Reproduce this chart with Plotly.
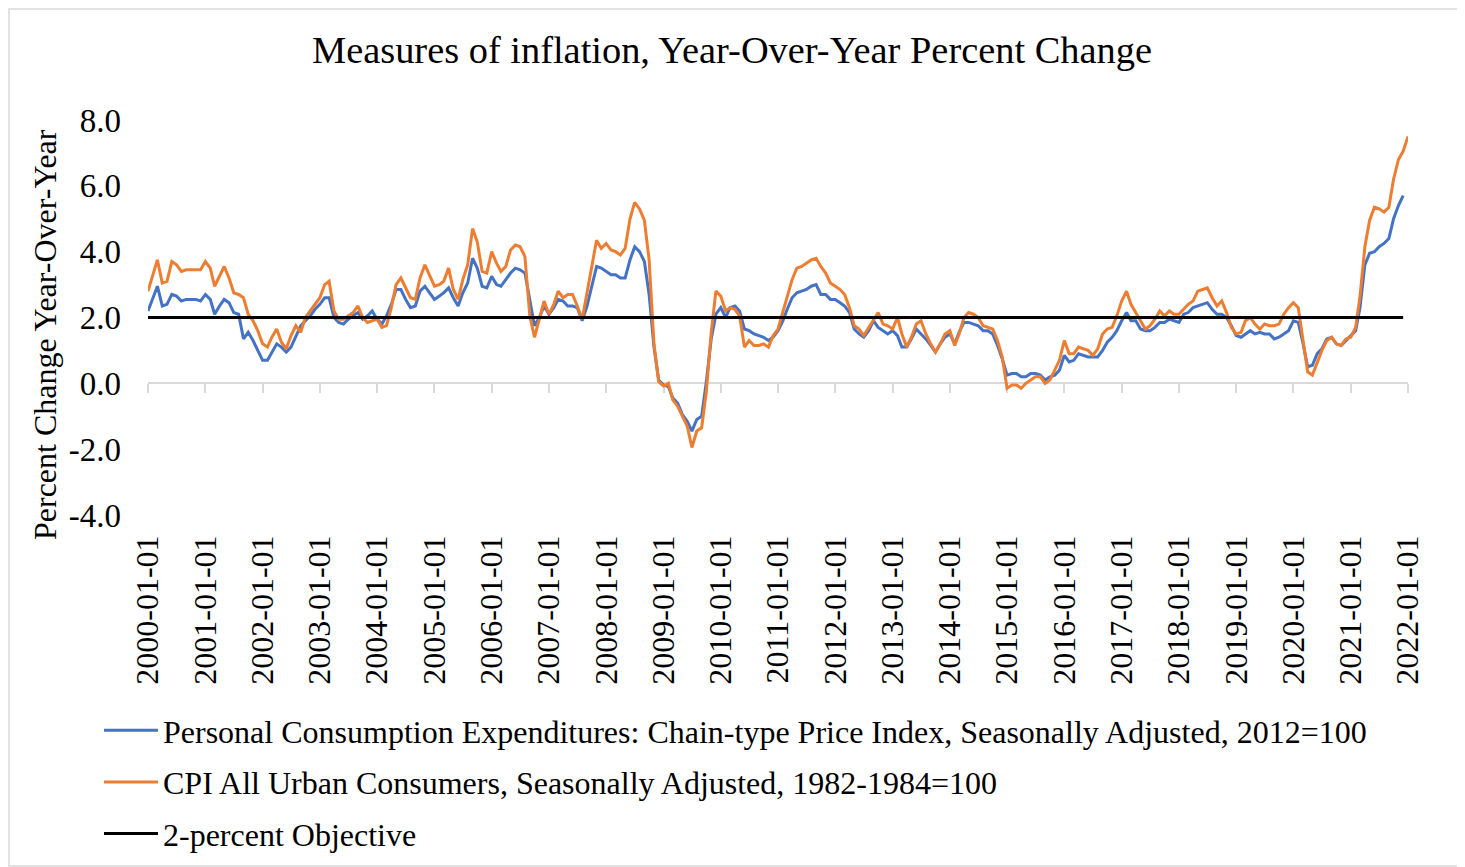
import pandas as pd
import plotly.graph_objects as go

# ---------------- data (year-over-year % change, monthly) ----------------
pce_yoy = [
    # 2000
    2.2, 2.6, 2.95, 2.35, 2.4, 2.7, 2.65, 2.5, 2.55, 2.55, 2.55, 2.5,
    # 2001
    2.7, 2.55, 2.1, 2.35, 2.55, 2.45, 2.15, 2.1, 1.35, 1.55, 1.3, 1.0,
    # 2002
    0.7, 0.7, 0.95, 1.2, 1.1, 0.95, 1.1, 1.4, 1.75, 1.9, 2.05, 2.25,
    # 2003
    2.4, 2.6, 2.6, 2.0, 1.85, 1.8, 1.95, 2.05, 2.15, 1.95, 2.05, 2.2,
    # 2004
    1.95, 1.8, 2.05, 2.4, 2.85, 2.85, 2.55, 2.3, 2.35, 2.8, 2.95, 2.75,
    # 2005
    2.55, 2.65, 2.75, 2.9, 2.6, 2.35, 2.75, 3.05, 3.8, 3.5, 2.95, 2.9,
    # 2006
    3.25, 3.0, 2.95, 3.15, 3.35, 3.5, 3.45, 3.35, 2.5, 1.75, 2.0, 2.35,
    # 2007
    2.1, 2.3, 2.55, 2.5, 2.35, 2.35, 2.3, 1.9, 2.35, 2.9, 3.55, 3.5,
    # 2008
    3.4, 3.3, 3.3, 3.2, 3.2, 3.75, 4.15, 4.0, 3.7, 2.7, 1.1, 0.1,
    # 2009
    -0.05, -0.1, -0.45, -0.6, -0.95, -1.15, -1.45, -1.1, -1.0, 0.05, 1.35, 2.1,
    # 2010
    2.3, 2.0, 2.3, 2.35, 2.2, 1.65, 1.6, 1.5, 1.45, 1.4, 1.3, 1.4,
    # 2011
    1.6, 1.9, 2.25, 2.6, 2.75, 2.8, 2.85, 2.95, 3.0, 2.7, 2.7, 2.55,
    # 2012
    2.55, 2.45, 2.35, 2.15, 1.65, 1.5, 1.4, 1.6, 1.9, 1.7, 1.6, 1.5,
    # 2013
    1.6, 1.45, 1.1, 1.1, 1.35, 1.65, 1.5, 1.35, 1.15, 0.95, 1.2, 1.4,
    # 2014
    1.5, 1.2, 1.55, 1.85, 1.85, 1.8, 1.75, 1.6, 1.6, 1.5, 1.15, 0.75,
    # 2015
    0.25, 0.3, 0.3, 0.2, 0.2, 0.3, 0.3, 0.25, 0.1, 0.2, 0.25, 0.4,
    # 2016
    0.85, 0.65, 0.7, 0.9, 0.85, 0.8, 0.8, 0.8, 1.0, 1.25, 1.4, 1.6,
    # 2017
    1.9, 2.15, 1.9, 1.9, 1.65, 1.6, 1.6, 1.7, 1.85, 1.85, 1.95, 1.9,
    # 2018
    1.85, 2.1, 2.15, 2.3, 2.35, 2.4, 2.45, 2.25, 2.1, 2.1, 2.0, 1.75,
    # 2019
    1.45, 1.4, 1.5, 1.6, 1.5, 1.55, 1.5, 1.5, 1.35, 1.4, 1.5, 1.6,
    # 2020
    1.9, 1.85, 1.25, 0.5, 0.55, 0.9, 1.05, 1.35, 1.4, 1.2, 1.15, 1.3,
    # 2021
    1.45, 1.6, 2.3, 3.6, 3.95, 4.0, 4.15, 4.25, 4.4, 5.0, 5.4, 5.7,
]

cpi_yoy = [
    # 2000
    2.8, 3.3, 3.75, 3.05, 3.1, 3.7, 3.6, 3.4, 3.45, 3.45, 3.45, 3.45,
    # 2001
    3.7, 3.5, 2.95, 3.25, 3.55, 3.2, 2.75, 2.7, 2.6, 2.1, 1.9, 1.6,
    # 2002
    1.2, 1.1, 1.4, 1.65, 1.25, 1.05, 1.45, 1.75, 1.55, 2.0, 2.2, 2.4,
    # 2003
    2.6, 3.0, 3.1, 2.2, 1.95, 1.95, 2.05, 2.15, 2.35, 2.0, 1.85, 1.9,
    # 2004
    1.95, 1.7, 1.75, 2.3, 3.0, 3.2, 2.9, 2.6, 2.55, 3.2, 3.6, 3.3,
    # 2005
    2.95, 3.0, 3.1, 3.5, 2.85, 2.55, 3.15, 3.6, 4.7, 4.3, 3.4, 3.35,
    # 2006
    4.0, 3.65, 3.4, 3.55, 4.05, 4.2, 4.15, 3.85, 2.05, 1.4, 1.95, 2.5,
    # 2007
    2.1, 2.4, 2.8, 2.6, 2.7, 2.7, 2.35, 1.95, 2.75, 3.55, 4.35, 4.1,
    # 2008
    4.25, 4.05, 4.0, 3.9, 4.1, 5.0, 5.5, 5.3, 4.95, 3.75, 1.2, 0.05,
    # 2009
    -0.08, 0.0, -0.5, -0.7, -1.0, -1.3, -1.95, -1.45, -1.35, -0.25, 1.55, 2.8,
    # 2010
    2.65, 2.2, 2.3, 2.25, 2.05, 1.1, 1.3, 1.15, 1.15, 1.2, 1.1, 1.45,
    # 2011
    1.65, 2.15, 2.65, 3.15, 3.5, 3.55, 3.65, 3.75, 3.8, 3.55, 3.35, 3.05,
    # 2012
    2.95, 2.85, 2.7, 2.3, 1.75, 1.65, 1.45, 1.7, 1.95, 2.15, 1.8, 1.75,
    # 2013
    1.65, 2.0, 1.5, 1.1, 1.4, 1.8, 1.9, 1.5, 1.2, 0.95, 1.2, 1.5,
    # 2014
    1.6, 1.15, 1.5, 2.0, 2.15, 2.1, 2.0, 1.75, 1.7, 1.65, 1.3, 0.8,
    # 2015
    -0.15, -0.05, -0.05, -0.15, 0.0, 0.1, 0.2, 0.2, 0.0, 0.1, 0.4, 0.7,
    # 2016
    1.3, 0.9, 0.9, 1.1, 1.05, 1.0, 0.85, 1.05, 1.5, 1.65, 1.7, 2.05,
    # 2017
    2.5, 2.8, 2.4, 2.15, 1.9, 1.65, 1.75, 1.95, 2.2, 2.05, 2.2, 2.1,
    # 2018
    2.1, 2.25, 2.4, 2.5, 2.8, 2.85, 2.9, 2.6, 2.35, 2.5, 2.15, 1.7,
    # 2019
    1.5, 1.55, 1.9, 2.0, 1.8, 1.65, 1.8, 1.75, 1.75, 1.8, 2.1, 2.3,
    # 2020
    2.45, 2.3, 1.4, 0.35, 0.25, 0.65, 1.0, 1.3, 1.4, 1.2, 1.15, 1.35,
    # 2021
    1.4, 1.7, 2.65, 4.15, 4.95, 5.35, 5.3, 5.2, 5.35, 6.2, 6.8, 7.05,
    # 2022
    7.5,
]

objective_value = 2.0

series_names = [
    "Personal Consumption Expenditures: Chain-type Price Index, Seasonally Adjusted, 2012=100",
    "CPI All Urban Consumers, Seasonally Adjusted, 1982-1984=100",
    "2-percent Objective",
]

y_tick_vals = [-4, -2, 0, 2, 4, 6, 8]
y_tick_text = ["-4.0", "-2.0", "0.0", "2.0", "4.0", "6.0", "8.0"]

start_date = "2000-01-01"
end_date = "2022-01-01"

title_text = "Measures of inflation, Year-Over-Year Percent Change"
y_title_text = "Percent Change Year-Over-Year"

# ---------------- figure ----------------
pce_dates = pd.date_range(start_date, periods=len(pce_yoy), freq="MS")
cpi_dates = pd.date_range(start_date, periods=len(cpi_yoy), freq="MS")
objective = [objective_value] * len(pce_yoy)

FONT = "Liberation Serif, Times New Roman, serif"
OFF = 8                      # page body margin
W, H = 1465 - OFF, 867 - OFF
# plot area in page pixels: x 148..1408, y 120..515
ML, MT = 148 - OFF, 120 - OFF
MR = W - (1408 - OFF)
MB = H - (515 - OFF)
PW, PH = W - ML - MR, H - MT - MB
Y_MIN, Y_MAX = -4, 8


def page_to_paper_x(px):
    return (px - OFF - ML) / PW


def page_to_paper_y(py):
    return (H - MB - (py - OFF)) / PH


LW = 3
fig = go.Figure()
fig.add_trace(go.Scatter(
    x=pce_dates, y=pce_yoy, name=series_names[0], mode="lines",
    line=dict(color="#4472C4", width=LW), legendgroup="a",
))
fig.add_trace(go.Scatter(
    x=cpi_dates, y=cpi_yoy, name=series_names[1], mode="lines",
    line=dict(color="#ED7D31", width=LW), legendgroup="b",
))
fig.add_trace(go.Scatter(
    x=pce_dates, y=objective, name=series_names[2], mode="lines",
    line=dict(color="#000000", width=LW), legendgroup="c", xaxis="x2",
))

zero_pos = (0 - Y_MIN) / (Y_MAX - Y_MIN)
FS = 32

fig.update_layout(
    width=W, height=H,
    margin=dict(l=ML, r=MR, t=MT, b=MB, autoexpand=False),
    paper_bgcolor="white", plot_bgcolor="white",
    font=dict(family=FONT, size=FS, color="#000000"),
    title=dict(
        text=title_text, x=(732 - OFF) / W, xref="container", xanchor="center",
        y=1 - (50 - OFF) / H, yref="container", yanchor="middle",
        font=dict(family=FONT, size=38.4, color="#000000"),
    ),
    xaxis=dict(
        type="date", range=[start_date, end_date],
        anchor="free", position=zero_pos,
        showline=True, linecolor="#d9d9d9", linewidth=2,
        ticks="outside", ticklen=9, tickwidth=2, tickcolor="#d9d9d9",
        tick0=start_date, dtick="M12",
        showticklabels=False, showgrid=False, zeroline=False,
        layer="below traces",
    ),
    xaxis2=dict(
        type="date", range=[start_date, end_date],
        overlaying="x", anchor="y", side="bottom",
        showline=False, ticks="", tick0=start_date, dtick="M12",
        tickformat="%Y-%m-%d", tickangle=-90, ticklabelstandoff=13,
        tickfont=dict(family=FONT, size=FS, color="#000000"),
        showgrid=False, zeroline=False,
    ),
    yaxis=dict(
        range=[Y_MIN, Y_MAX], tickvals=y_tick_vals, ticktext=y_tick_text,
        showline=False, showgrid=False, zeroline=False, ticks="",
        ticklabelstandoff=26,
        tickfont=dict(family=FONT, size=33, color="#000000"),
    ),
    showlegend=True,
    legend=dict(
        orientation="v", x=page_to_paper_x(99), y=page_to_paper_y(703),
        xanchor="left", yanchor="top", xref="paper", yref="paper",
        font=dict(family=FONT, size=FS, color="#000000"),
        bgcolor="rgba(0,0,0,0)", tracegroupgap=7, traceorder="grouped",
        itemwidth=54,
    ),
    annotations=[dict(
        text=y_title_text, textangle=-90, showarrow=False,
        x=page_to_paper_x(45), y=page_to_paper_y(335), xref="paper", yref="paper",
        xanchor="center", yanchor="middle",
        font=dict(family=FONT, size=FS, color="#000000"),
    )],
    shapes=[dict(
        type="rect", xref="paper", yref="paper", layer="below",
        x0=page_to_paper_x(9), x1=page_to_paper_x(1458),
        y0=page_to_paper_y(866), y1=page_to_paper_y(9),
        line=dict(color="#d9d9d9", width=1.5), fillcolor="rgba(0,0,0,0)",
    )],
)

fig.write_html("out.html")
